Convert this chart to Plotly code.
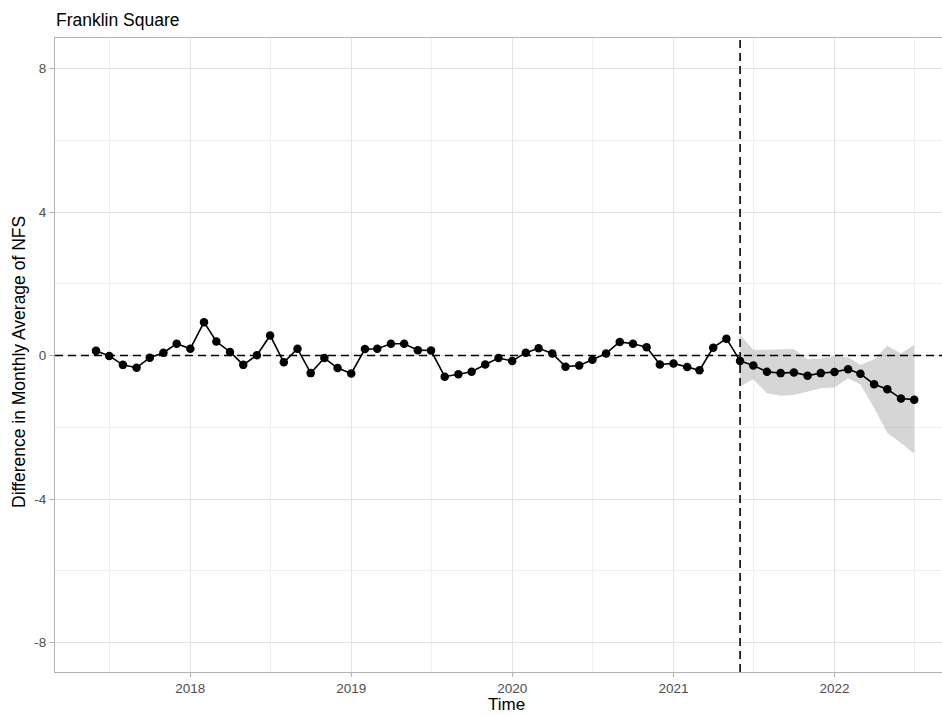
import pandas as pd
import plotly.graph_objects as go

# Monthly difference in average NFS, June 2017 - July 2022
months = pd.date_range("2017-06-01", periods=62, freq="MS")
diff_nfs = [
    0.13, -0.01, -0.26, -0.34, -0.06, 0.08, 0.33,                                   # 2017
    0.19, 0.93, 0.39, 0.10, -0.26, 0.01, 0.56, -0.19, 0.19, -0.49, -0.07, -0.35,    # 2018
    -0.50, 0.18, 0.19, 0.33, 0.33, 0.15, 0.14, -0.59, -0.52, -0.45, -0.25, -0.07,   # 2019
    -0.15, 0.08, 0.20, 0.06, -0.31, -0.28, -0.12, 0.06, 0.38, 0.33, 0.23, -0.25,    # 2020
    -0.22, -0.32, -0.41, 0.22, 0.47, -0.15, -0.28, -0.45, -0.49, -0.47, -0.56, -0.49,  # 2021
    -0.46, -0.38, -0.51, -0.80, -0.94, -1.20, -1.23,                                # 2022
]

# Post-intervention uncertainty band (June 2021 onwards)
band_start = 48
band_upper = [0.57, 0.16, 0.16, 0.16, 0.18, -0.10, -0.08, -0.01, -0.05, -0.26, -0.10, 0.27, 0.06, 0.30]
band_lower = [-0.86, -0.66, -1.05, -1.12, -1.10, -1.00, -0.91, -0.89, -0.63, -0.81, -1.46, -2.16, -2.44, -2.74]
band_months = months[band_start:band_start + len(band_upper)]

intervention = "2021-06-01"
y_ticks = [-8, -4, 0, 4, 8]
x_tick_years = ["2018", "2019", "2020", "2021", "2022"]

FONT = "Liberation Sans, Arial, sans-serif"
BORDER = "#b3b3b3"
GRID = "#e3e3e3"
GRID_MINOR = "#efefef"

fig = go.Figure()

fig.add_trace(go.Scatter(
    x=band_months, y=band_upper, mode="lines", line=dict(width=0),
    hoverinfo="skip", showlegend=False,
))
fig.add_trace(go.Scatter(
    x=band_months, y=band_lower, mode="lines", line=dict(width=0),
    fill="tonexty", fillcolor="rgba(153,153,153,0.4)",
    hoverinfo="skip", showlegend=False,
))
fig.add_trace(go.Scatter(
    x=months, y=diff_nfs, mode="lines+markers",
    line=dict(color="black", width=1.6),
    marker=dict(color="black", size=8.5),
    showlegend=False,
))

# Reference lines: zero difference and the intervention date
fig.add_shape(type="line", xref="paper", x0=0, x1=1, yref="y", y0=0, y1=0,
              line=dict(color="black", width=1.6, dash="8px,5px"), layer="above")
fig.add_shape(type="line", xref="x", x0=intervention, x1=intervention, yref="paper", y0=0, y1=1,
              line=dict(color="black", width=1.6, dash="8px,5px"), layer="above")

fig.update_xaxes(
    range=["2017-02-28", "2022-09-02"],
    tickvals=[f"{y}-01-01" for y in x_tick_years], ticktext=x_tick_years,
    tickfont=dict(family=FONT, size=13.5, color="#4d4d4d"),
    ticks="outside", ticklen=4, tickcolor=BORDER, tickwidth=1,
    showgrid=True, gridcolor=GRID, gridwidth=1,
    minor=dict(tickvals=[f"{y}-07-01" for y in ["2017", "2018", "2019", "2020", "2021", "2022"]],
               showgrid=True, gridcolor=GRID_MINOR, gridwidth=0.8, ticks=""),
    showline=True, linecolor=BORDER, linewidth=1.2, mirror=True,
    zeroline=False,
)
fig.update_yaxes(
    range=[-8.82, 8.85],
    tickvals=y_ticks, ticktext=[str(v) for v in y_ticks],
    tickfont=dict(family=FONT, size=13.5, color="#4d4d4d"),
    ticks="outside", ticklen=5, tickcolor=BORDER, tickwidth=1,
    showgrid=True, gridcolor=GRID, gridwidth=1,
    minor=dict(tickvals=[-6, -2, 2, 6], showgrid=True, gridcolor=GRID_MINOR, gridwidth=0.8, ticks=""),
    showline=True, linecolor=BORDER, linewidth=1.2, mirror=False,
    zeroline=False,
)

fig.update_layout(
    width=942, height=715,
    margin=dict(l=55, r=0, t=38, b=43),
    paper_bgcolor="white", plot_bgcolor="white",
    font=dict(family=FONT),
    title=dict(text="Franklin Square", xref="container", x=56 / 942, xanchor="left",
               yref="container", y=1 - 20 / 715, yanchor="middle",
               font=dict(family=FONT, size=17.5, color="#000000")),
    annotations=[
        dict(text="Time", xref="paper", x=(506 - 55) / 887, xanchor="center",
             yref="paper", y=-(705 - 672) / 634, yanchor="middle",
             showarrow=False, font=dict(family=FONT, size=17, color="#000000")),
        dict(text="Difference in Monthly Average of NFS", textangle=-90,
             xref="paper", x=-(55 - 19) / 887, xanchor="center",
             yref="paper", y=(672 - 362) / 634, yanchor="middle",
             showarrow=False, font=dict(family=FONT, size=17.5, color="#000000")),
    ],
)

fig.write_html("out.html")
